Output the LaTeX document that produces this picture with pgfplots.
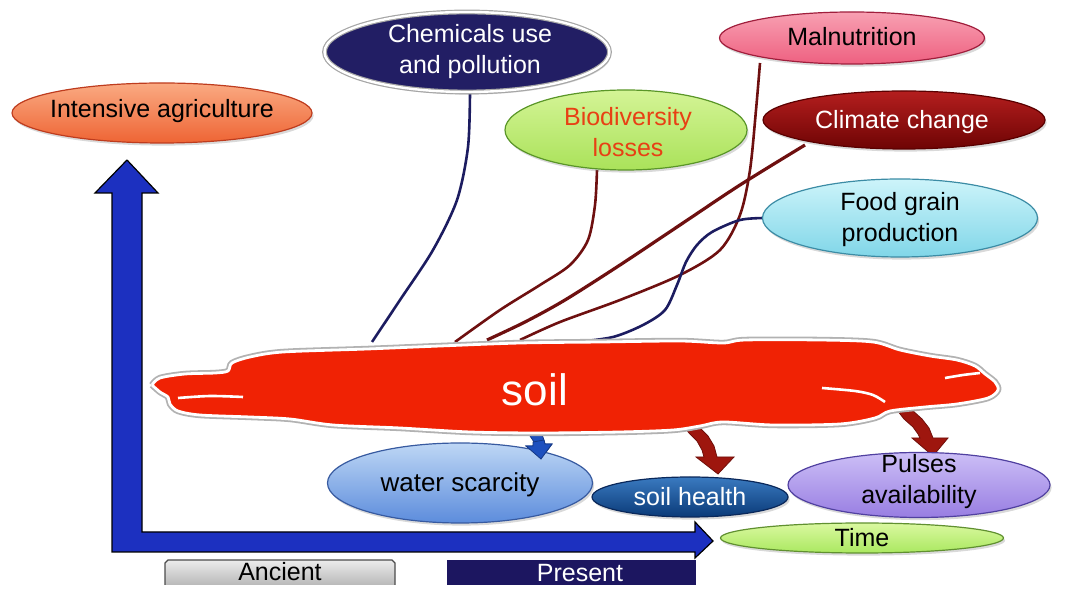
\documentclass[border=0pt]{standalone}
\usepackage{fontspec}
\setmainfont{Liberation Sans}
\usepackage{pgfplots}
\pgfplotsset{compat=1.18}
\usepackage{pgfplotstable}
\usetikzlibrary{shapes.geometric,shadows,arrows.meta}

\definecolor{soilred}{RGB}{240,34,4}
\definecolor{navyline}{RGB}{28,28,96}
\definecolor{redline}{RGB}{110,16,16}
\definecolor{axisblue}{RGB}{28,48,192}
\definecolor{arrowred}{RGB}{158,22,14}
\definecolor{smallblue}{RGB}{30,80,190}
\definecolor{presentnavy}{RGB}{28,22,96}

\newcommand{\fs}{\fontsize{12.5}{15.5}\selectfont}

\pgfplotstableread{
x y
152 385
160 378
185 374
215 373
228 371
232 363
250 357
283 352
367 349
440 346
520 343
600 342
680 341
723 343
745 340
820 340
873 342
900 350
930 356
957 360
975 366
985 374
995 382
998 390
988 398
957 404
925 407
890 411
875 418
840 424
773 425
723 422
700 426
673 430
620 432
540 433
470 432
400 428
333 425
290 419
250 417
200 415
178 411
170 404
168 397
160 392
152 385
}\cloud

\tikzset{
  ell/.style={ellipse, inner sep=0pt, line width=0.6pt,
    drop shadow={shadow xshift=0.8pt, shadow yshift=-1.3pt, opacity=0.3}},
}

\begin{document}
\begin{tikzpicture}
\begin{axis}[scale only axis, width=535pt, height=292.5pt,
  xmin=0, xmax=1070, ymin=0, ymax=585, y dir=reverse,
  hide axis, clip=false]
\addplot[draw=none] coordinates {(0,0) (1070,585)};

% connector lines
\addplot[smooth, line width=1.3pt, color=navyline] coordinates {(470,92)(468,147)(457,200)(433,250)(400,300)(372,342)};
\addplot[smooth, line width=1.3pt, color=redline] coordinates {(597,170)(595,205)(588,240)(570,265)(540,285)(500,310)(455,342)};
\addplot[smooth, line width=1.3pt, color=redline] coordinates {(760,63)(756,110)(750,170)(740,215)(720,250)(680,275)(620,300)(560,322)(520,340)};
\addplot[smooth, line width=1.6pt, color=redline] coordinates {(805,145)(740,185)(680,225)(620,265)(565,300)(525,322)(487,340)};
\addplot[smooth, line width=1.3pt, color=navyline] coordinates {(765,218)(740,220)(712,232)(697,245)(686,262)(677,285)(665,310)(643,325)(613,337)(577,342)};

% blue L-shaped axis arrow
\addplot[fill=axisblue, draw=black, line width=0.6pt] coordinates {
  (127,160)(158,193)(142,193)(142,532)(695,532)(695,522)(713,541)(695,558)(695,552)(112,552)(112,193)(95,193)(127,160)};

% arrows from soil (drawn under the cloud)
\addplot[fill=arrowred, draw=arrowred!70!black, line width=0.4pt] coordinates {
  (679,420)(689,433)(697,441)(702,450)(704,457)(696,457)(718,474)(734,457)(717,457)(714,446)(708,436)(699,427)(692,418)(679,420)};
\addplot[fill=arrowred, draw=arrowred!70!black, line width=0.4pt] coordinates {
  (893,405)(904,419)(913,427)(918,434)(920,438)(912,438)(933,456)(948,438)(933,438)(929,428)(922,419)(912,410)(903,402)(893,405)};
\addplot[fill=smallblue, draw=smallblue!70!black, line width=0.4pt] coordinates {
  (522,425)(530,436)(534,442)(533,446)(526,446)(541,459)(552,444)(545,444)(543,437)(537,429)(530,424)(522,425)};

% soil cloud
\addplot[smooth, fill=gray!60, draw=gray!60, line width=3.2pt] table[x=x,y=y]{\cloud};
\addplot[smooth, fill=soilred, draw=white, line width=1.4pt] table[x=x,y=y]{\cloud};
\addplot[smooth, draw=white, line width=1.3pt] coordinates {(243,397)(210,396)(178,398)};
\addplot[smooth, draw=white, line width=1.3pt] coordinates {(822,388)(855,391)(873,395)(885,402)};
\addplot[smooth, draw=white, line width=1.3pt] coordinates {(945,378)(963,375)(980,373)};
\node[font=\fontsize{22}{26}\selectfont, text=white] at (axis cs:535,390) {soil};

% upper ellipses
\node[ell, minimum width=150pt, minimum height=30pt, top color={rgb,255:red,250;green,170;blue,130}, bottom color={rgb,255:red,238;green,100;blue,52}, draw={rgb,255:red,190;green,60;blue,30}] at (axis cs:162,113) {};
\node[font=\fs] at (axis cs:162,111) {Intensive agriculture};

\node[ell, minimum width=142.5pt, minimum height=40pt, fill={rgb,255:red,34;green,30;blue,100}, draw=gray!70, double=white, double distance=1.2pt] at (axis cs:467,52) {};
\node[font=\fs, text=white, align=center] at (axis cs:470,52) {Chemicals use\\and pollution};

\node[ell, minimum width=132.5pt, minimum height=26pt, top color={rgb,255:red,248;green,160;blue,178}, bottom color={rgb,255:red,238;green,96;blue,128}, draw={rgb,255:red,160;green,30;blue,60}] at (axis cs:852,38) {};
\node[font=\fs] at (axis cs:852,37) {Malnutrition};

\node[ell, minimum width=121pt, minimum height=40pt, top color={rgb,255:red,212;green,244;blue,150}, bottom color={rgb,255:red,170;green,226;blue,90}, draw={rgb,255:red,90;green,150;blue,40}] at (axis cs:626,130) {};
\node[font=\fs, align=center, text={rgb,255:red,232;green,64;blue,20}] at (axis cs:628,132) {Biodiversity\\losses};

\node[ell, minimum width=141pt, minimum height=29pt, top color={rgb,255:red,180;green,30;blue,30}, bottom color={rgb,255:red,110;green,4;blue,4}, draw={rgb,255:red,90;green,0;blue,0}] at (axis cs:904,120) {};
\node[font=\fs, text=white] at (axis cs:902,122) {Climate change};

\node[ell, minimum width=137.5pt, minimum height=39pt, top color={rgb,255:red,205;green,244;blue,250}, bottom color={rgb,255:red,128;green,214;blue,232}, draw={rgb,255:red,60;green,140;blue,165}] at (axis cs:900,218) {};
\node[font=\fs, align=center] at (axis cs:900,220) {Food grain\\production};

% lower ellipses
\node[ell, minimum width=132.5pt, minimum height=40pt, top color={rgb,255:red,190;green,215;blue,245}, bottom color={rgb,255:red,92;green,140;blue,220}, draw={rgb,255:red,55;green,90;blue,160}] at (axis cs:460,483) {};
\node[font=\fontsize{13}{15.5}\selectfont] at (axis cs:460,485) {water scarcity};

\node[ell, minimum width=98pt, minimum height=20pt, top color={rgb,255:red,58;green,122;blue,192}, bottom color={rgb,255:red,10;green,58;blue,120}, draw={rgb,255:red,10;green,40;blue,90}] at (axis cs:690,497) {};
\node[font=\fs, text=white] at (axis cs:690,497) {soil health};

\node[ell, minimum width=131pt, minimum height=32.5pt, top color={rgb,255:red,204;green,190;blue,246}, bottom color={rgb,255:red,152;green,126;blue,226}, draw={rgb,255:red,80;green,64;blue,160}] at (axis cs:919,485) {};
\node[font=\fs, align=center] at (axis cs:919,482) {Pulses\\availability};

\node[ell, minimum width=141.5pt, minimum height=15pt, top color={rgb,255:red,218;green,248;blue,160}, bottom color={rgb,255:red,170;green,232;blue,96}, draw={rgb,255:red,96;green,144;blue,48}] at (axis cs:862,538) {};
\node[font=\fs] at (axis cs:862,538) {Time};

% small blue arrow tip over water scarcity
\addplot[fill=smallblue, draw=smallblue!70!black, line width=0.4pt] coordinates {
  (533,442)(533,446)(526,446)(541,459)(552,444)(545,444)(544,440)(533,442)};

% bottom labels
\addplot[top color=gray!15, bottom color=gray!55, draw=black!70, line width=0.6pt] coordinates {(165,585)(165,563)(168,560)(392,560)(395,563)(395,585)};
\node[font=\fs] at (axis cs:280,572) {Ancient};
\addplot[fill=presentnavy, draw=presentnavy] coordinates {(447,585)(447,560)(695,560)(695,585)};
\node[font=\fs, text=white] at (axis cs:580,573) {Present};
\end{axis}
\end{tikzpicture}
\end{document}
